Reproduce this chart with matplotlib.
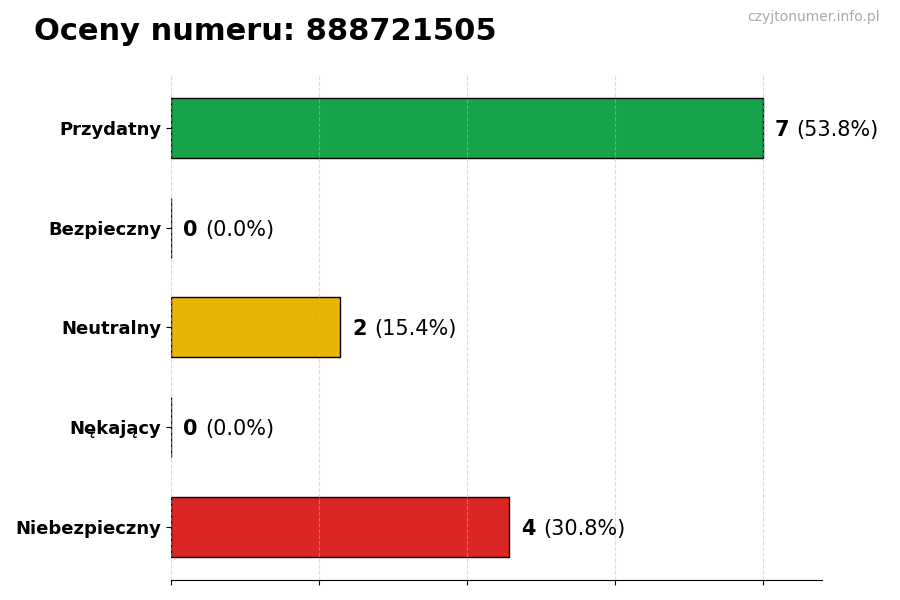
import matplotlib
matplotlib.use("Agg")
import matplotlib.pyplot as plt
import numpy as np

categories = ["Przydatny", "Bezpieczny", "Neutralny", "Nękający", "Niebezpieczny"]
counts = [7, 0, 2, 0, 4]
colors = ["#16a34a", "#22c55e", "#eab308", "#f97316", "#dc2626"]
title = "Oceny numeru: 888721505"
watermark = "czyjtonumer.info.pl"

total = sum(counts)
fig = plt.figure(figsize=(9, 6), dpi=100)
ax = fig.add_axes([0.19, 0.0333, 0.723, 0.842])

y = np.arange(len(categories))
ax.barh(y, counts, height=0.6, color=colors, edgecolor="black", linewidth=1, zorder=2)
ax.invert_yaxis()
ax.set_yticks(y)
ax.set_yticklabels(categories, fontsize=13, fontweight="bold")
maxv = max(counts)
ax.set_xlim(0, maxv * 1.1)
ax.set_xticks(np.linspace(0, maxv, 5))
ax.set_xticklabels([])
ax.grid(axis="x", linestyle="--", color="#bbbbbb", alpha=0.5, linewidth=0.8, zorder=3)
ax.set_axisbelow(False)
for s in ["top", "right", "left"]:
    ax.spines[s].set_visible(False)

for i, c in enumerate(counts):
    t1 = ax.annotate(str(c), xy=(c, i), xytext=(9, 0), textcoords="offset points",
                     ha="left", va="center_baseline", fontsize=15, fontweight="bold")
    ax.annotate(f"({c / total * 100:.1f}%)", xy=(1, 0.5), xycoords=t1, xytext=(5, 0),
                textcoords="offset points", ha="left", va="center", fontsize=15)

fig.text(34 / 900, 1 - 31 / 600, title, fontsize=22, fontweight="bold", ha="left", va="center")
fig.text(880 / 900, 1 - 17 / 600, watermark, fontsize=10, color="#aaaaaa", ha="right", va="center")

fig.savefig("out.png", dpi=100)
